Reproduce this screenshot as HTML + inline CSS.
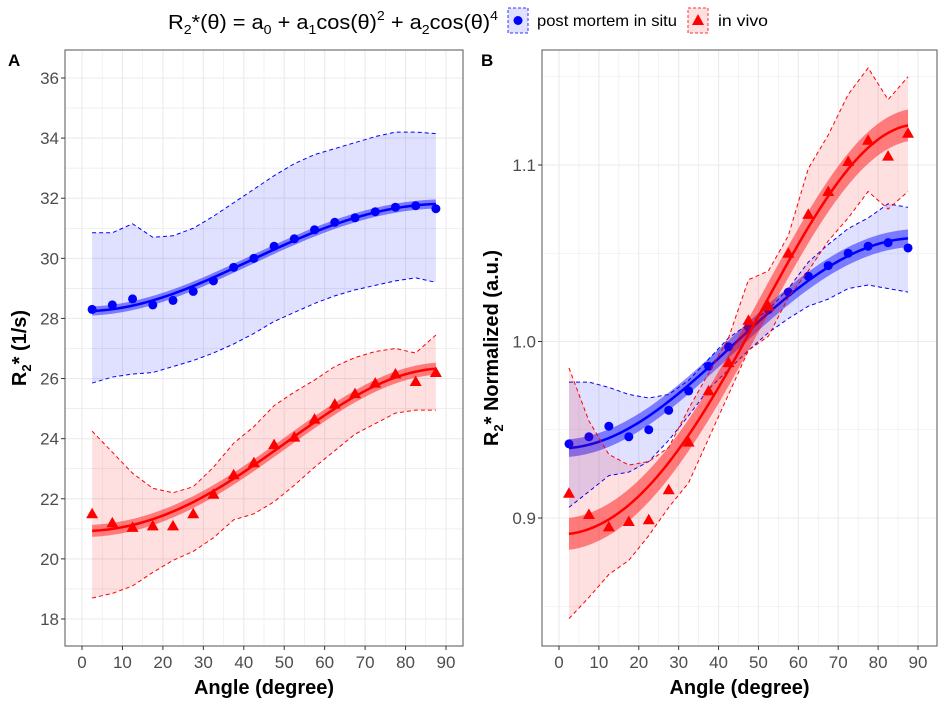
<!DOCTYPE html>
<html><head><meta charset="utf-8"><style>
body{margin:0;background:#fff;}
svg{display:block;font-family:"Liberation Sans",sans-serif;}
</style></head><body>
<svg id="c" width="943" height="702">
  <g>
    <text x="168" y="29" font-size="20" textLength="330" lengthAdjust="spacingAndGlyphs">R<tspan font-size="13" dy="5">2</tspan><tspan dy="-5">*(θ) = a</tspan><tspan font-size="13" dy="5">0</tspan><tspan dy="-5"> + a</tspan><tspan font-size="13" dy="5">1</tspan><tspan dy="-5">cos(θ)</tspan><tspan font-size="13" dy="-9">2</tspan><tspan dy="9"> + a</tspan><tspan font-size="13" dy="5">2</tspan><tspan dy="-5">cos(θ)</tspan><tspan font-size="13" dy="-9">4</tspan></text>
    <rect x="508" y="8" width="20" height="25" fill="#e0e0ff" stroke="#3333ff" stroke-dasharray="3,2"/>
    <circle cx="518" cy="20.5" r="4.5" fill="#0000ff"/>
    <text x="537" y="26" font-size="16" textLength="140" lengthAdjust="spacingAndGlyphs">post mortem in situ</text>
    <rect x="688" y="8" width="20" height="25" fill="#ffe0e0" stroke="#ff3333" stroke-dasharray="3,2"/>
    <polygon points="698,14 704,25 692,25" fill="#ff0000"/>
    <text x="718" y="26" font-size="16" textLength="50" lengthAdjust="spacingAndGlyphs">in vivo</text>
  </g>
  <text x="8" y="66" font-size="17" font-weight="bold">A</text>
  <text x="481" y="66" font-size="17" font-weight="bold">B</text>
</svg>
<script>
const angles=[2.5,7.5,12.5,17.5,22.5,27.5,32.5,37.5,42.5,47.5,52.5,57.5,62.5,67.5,72.5,77.5,82.5,87.5];
const aBlue=[28.3,28.45,28.65,28.45,28.6,28.9,29.25,29.7,30.0,30.4,30.65,30.95,31.2,31.35,31.55,31.7,31.75,31.65];
const aBlueUp=[30.85,30.85,31.15,30.7,30.75,31.0,31.4,31.85,32.3,32.75,33.15,33.45,33.65,33.85,34.05,34.2,34.2,34.15];
const aBlueLo=[25.85,26.05,26.15,26.2,26.4,26.6,26.85,27.15,27.5,27.9,28.2,28.5,28.75,28.95,29.1,29.25,29.35,29.2];
const aRed=[21.5,21.2,21.05,21.1,21.1,21.5,22.15,22.8,23.2,23.8,24.05,24.65,25.15,25.5,25.85,26.15,25.9,26.2];
const aRedUp=[24.25,23.55,22.85,22.35,22.2,22.4,23.05,23.85,24.4,25.1,25.55,25.95,26.4,26.7,26.9,27.0,26.85,27.45];
const aRedLo=[18.7,18.85,19.1,19.55,19.95,20.25,20.7,21.3,21.5,21.9,22.45,23.05,23.6,24.15,24.5,24.85,24.95,24.95];
const bBlue=[0.942,0.946,0.952,0.946,0.950,0.961,0.972,0.986,0.997,1.008,1.018,1.028,1.037,1.043,1.050,1.054,1.056,1.053];
const bBlueUp=[0.977,0.977,0.974,0.970,0.968,0.970,0.978,0.990,1.002,1.010,1.018,1.030,1.045,1.055,1.064,1.070,1.078,1.076];
const bBlueLo=[0.906,0.915,0.924,0.926,0.932,0.944,0.958,0.973,0.984,0.995,1.005,1.013,1.020,1.024,1.030,1.032,1.030,1.028];
const bRed=[0.914,0.902,0.895,0.898,0.899,0.916,0.943,0.972,0.988,1.012,1.020,1.050,1.072,1.085,1.102,1.114,1.105,1.118];
const bRedUp=[0.985,0.955,0.936,0.930,0.932,0.940,0.962,0.982,1.002,1.035,1.040,1.060,1.098,1.117,1.140,1.155,1.137,1.150];
const bRedLo=[0.843,0.855,0.868,0.876,0.890,0.906,0.920,0.945,0.970,0.995,1.003,1.025,1.040,1.057,1.070,1.085,1.075,1.085];
const xTicks=[0,10,20,30,40,50,60,70,80,90];
const aYTicks=[18,20,22,24,26,28,30,32,34,36];
const bYTicks=[0.9,1.0,1.1];
const ribbonA=[0.15,0.2], ribbonB=[0.005,0.009];

const NS="http://www.w3.org/2000/svg";
const svg=document.getElementById('c');
function mk(tag,attrs,parent){const e=document.createElementNS(NS,tag);for(const k in attrs)e.setAttribute(k,attrs[k]);(parent||svg).appendChild(e);return e;}

function fit(xs,ys){
  const M=[[0,0,0],[0,0,0],[0,0,0]],v=[0,0,0];
  xs.forEach((x,i)=>{const c=Math.cos(x*Math.PI/180)**2;const f=[1,c,c*c];for(let r=0;r<3;r++){v[r]+=f[r]*ys[i];for(let s=0;s<3;s++)M[r][s]+=f[r]*f[s];}});
  for(let i=0;i<3;i++){for(let j=i+1;j<3;j++){const k=M[j][i]/M[i][i];for(let s=0;s<3;s++)M[j][s]-=k*M[i][s];v[j]-=k*v[i];}}
  const a=[0,0,0];for(let i=2;i>=0;i--){let s=v[i];for(let j=i+1;j<3;j++)s-=M[i][j]*a[j];a[i]=s/M[i][i];}
  return x=>{const c=Math.cos(x*Math.PI/180)**2;return a[0]+a[1]*c+a[2]*c*c;};
}

function panel(P){
  const g=mk('g',{});
  
  
  const X=v=>P.x0+(v-0)*(P.x90-P.x0)/90;
  const Y=v=>P.yA+(v-P.vA)*(P.yB-P.yA)/(P.vB-P.vA);
  for(let t=-5;t<=95;t+=5){const x=X(t);if(x<P.L||x>P.R)continue;const l=mk('line',{x1:x,x2:x,y1:P.T,y2:P.B,stroke:'#ebebeb','stroke-width':t%10?0.6:1.1},g);}
  P.yt.forEach((t,i)=>{[t,t+P.step/2,t-P.step/2].forEach((v,j)=>{const y=Y(v);if(y<P.T||y>P.B)return;const l=mk('line',{x1:P.L,x2:P.R,y1:y,y2:y,stroke:'#ebebeb','stroke-width':j?0.6:1.1},g);});});
  P.series.forEach(S=>{
    const up=S.up.map((v,i)=>X(angles[i])+','+Y(v)),lo=S.lo.map((v,i)=>X(angles[i])+','+Y(v));
    const band=mk('polygon',{points:up.concat(lo.slice().reverse()).join(' '),fill:S.light,stroke:'none'},g);
    
    [up,lo].forEach(p=>{const l=mk('polyline',{points:p.join(' '),fill:'none',stroke:S.col,'stroke-width':1,'stroke-dasharray':'4,3'},g);});
    const f=fit(angles,S.vals);const xs=[];for(let a=2.5;a<=87.51;a+=1)xs.push(a);
    const ci=mk('polygon',{points:xs.map(a=>X(a)+','+Y(f(a)+S.se)).concat(xs.slice().reverse().map(a=>X(a)+','+Y(f(a)-S.se))).join(' '),fill:S.col,'fill-opacity':0.45},g);
    
    const fl=mk('polyline',{points:xs.map(a=>X(a)+','+Y(f(a))).join(' '),fill:'none',stroke:S.col,'stroke-width':2.5},g);
    
    S.vals.forEach((v,i)=>{const x=X(angles[i]),y=Y(v);let m;
      if(S.shape==='c')m=mk('circle',{cx:x,cy:y,r:4.5,fill:S.col},g);
      else m=mk('polygon',{points:`${x},${y-6} ${x+6},${y+4.5} ${x-6},${y+4.5}`,fill:S.col},g);
      });
  });
  const fr=mk('rect',{x:P.L,y:P.T,width:P.R-P.L,height:P.B-P.T,fill:'none',stroke:'#555','stroke-width':1},g);
  
  xTicks.forEach(t=>{const x=X(t);mk('line',{x1:x,x2:x,y1:P.B,y2:P.B+4,stroke:'#333'},g);
    const tx=mk('text',{x:x,y:P.B+22,'font-size':17,fill:'#4d4d4d','text-anchor':'middle'},g);tx.textContent=t;
    });
  P.yt.forEach(t=>{const y=Y(t);mk('line',{x1:P.L-4,x2:P.L,y1:y,y2:y,stroke:'#333'},g);
    const tx=mk('text',{x:P.L-6,y:y+6,'font-size':17,fill:'#4d4d4d','text-anchor':'end'},g);tx.textContent=P.fmt(t);
    });
  const xt=mk('text',{x:(P.L+P.R)/2,y:694,'font-size':20,'font-weight':'bold','text-anchor':'middle'},g);xt.textContent='Angle (degree)';
  
  const yt=mk('text',{x:0,y:0,'font-size':20,'font-weight':'bold','text-anchor':'middle',transform:`translate(${P.ytx},${(P.T+P.B)/2}) rotate(-90)`},g);
  yt.innerHTML='R<tspan font-size="13" dy="5">2</tspan><tspan dy="-5">'+P.ytitle+'</tspan>';
  
}
panel({name:'panel-a',L:65,R:463,T:50,B:646,x0:82,x90:446,yA:78,vA:36,yB:619,vB:18,yt:aYTicks,step:2,fmt:t=>t,ytx:26,ytitle:'* (1/s)',
  series:[{key:'post-mortem',vals:aBlue,up:aBlueUp,lo:aBlueLo,col:'#0000ff',light:'rgba(0,0,255,0.12)',shape:'c',se:ribbonA[0]},
          {key:'in-vivo',vals:aRed,up:aRedUp,lo:aRedLo,col:'#ff0000',light:'rgba(255,0,0,0.12)',shape:'t',se:ribbonA[1]}]});
panel({name:'panel-b',L:542,R:937,T:50,B:646,x0:559,x90:918,yA:165,vA:1.1,yB:518,vB:0.9,yt:bYTicks,step:0.1,fmt:t=>t.toFixed(1),ytx:498,ytitle:'* Normalized (a.u.)',
  series:[{key:'post-mortem',vals:bBlue,up:bBlueUp,lo:bBlueLo,col:'#0000ff',light:'rgba(0,0,255,0.12)',shape:'c',se:ribbonB[0]},
          {key:'in-vivo',vals:bRed,up:bRedUp,lo:bRedLo,col:'#ff0000',light:'rgba(255,0,0,0.12)',shape:'t',se:ribbonB[1]}]});
</script>
</body></html>
